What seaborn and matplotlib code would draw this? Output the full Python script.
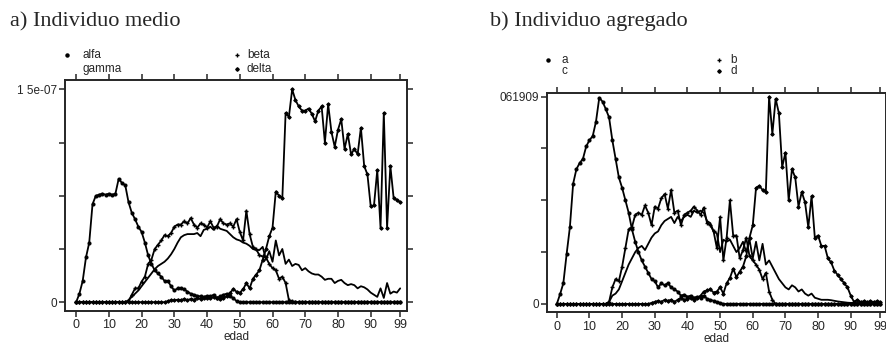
import numpy as np
import pandas as pd
import seaborn as sns
import matplotlib.pyplot as plt

# edades 0..99
edad = list(range(100))

# Panel a) Individuo medio  (fraccion del maximo 1.5e-07)
TOP_A = 1.5e-07
alfa_a = [0, .04, .10, .21, .28, .46, .50, .505, .51, .505,
          .51, .505, .51, .58, .56, .55, .47, .42, .39, .355,
          .33, .28, .22, .18, .15, .135, .12, .10, .10, .075,
          .055, .065, .065, .06, .05, .04, .035, .03, .027, .025,
          .03, .027, .035, .02, .027, .035, .04, .027, .02, .005] + [0.0] * 50
beta_a = [0.0] * 16 + [.005, .035, .065, .065, .097, .12, .18, .20, .25, .27,
                       .29, .315, .31, .325, .355, .365, .365, .38, .37, .395,
                       .365, .35, .37, .365, .35, .38, .35, .355, .39, .37,
                       .365, .37, .355, .39, .33, .29, .43, .32, .26, .25,
                       .22, .215, .21, .18, .16, .15, .11, .12, .09, .01,
                       .005] + [0.0] * 33
gamma_a = [0.0] * 16 + [.01, .025, .04, .055, .075, .095, .115, .135, .155, .17,
                        .18, .19, .205, .225, .25, .28, .305, .315, .32, .32,
                        .32, .325, .31, .34, .345, .355, .34, .36, .345, .34,
                        .335, .32, .305, .295, .29, .28, .275, .265, .25, .245,
                        .245, .26, .20, .24, .19, .29, .22, .25, .18, .20,
                        .17, .18, .175, .15, .16, .145, .135, .13, .13, .12,
                        .105, .11, .11, .09, .10, .105, .09, .08, .085, .08,
                        .065, .075, .07, .06, .045, .035, .025, .065, .02, .09,
                        .04, .05, .045, .065]
delta_a = [0.0] * 28 + [.005, .01, .008, .012, .01, .015, .01, .015, .012, .02,
                        .015, .02, .022, .018, .025, .02, .015, .02, .027, .045,
                        .06, .05, .045, .06, .09, .065, .11, .13, .15, .20,
                        .25, .31, .35, .52, .50, .49, .89, .87, 1.0, .95,
                        .92, .90, .90, .91, .885, .85, .90, .92, .75, .93,
                        .80, .73, .81, .86, .72, .79, .695, .72, .695, .82,
                        .64, .60, .45, .455, .62, .35, .89, .35, .64, .49,
                        .48, .47]

# Panel b) Individuo agregado  (fraccion del maximo .061909)
TOP_B = 0.061909
a_b = [0, .047, .10, .24, .37, .58, .65, .68, .70, .76,
       .79, .81, .88, .995, .976, .94, .90, .79, .70, .61,
       .56, .50, .44, .36, .30, .25, .21, .18, .15, .12,
       .11, .08, .10, .09, .10, .08, .07, .06, .04, .045,
       .035, .04, .03, .035, .03, .04, .025, .02, .015, .01,
       .005] + [0.0] * 49
b_b = [0.0] * 16 + [.01, .08, .12, .11, .18, .27, .36, .37, .43, .44,
                    .43, .475, .44, .38, .47, .46, .51, .53, .46, .55,
                    .44, .45, .38, .43, .44, .45, .47, .45, .43, .465,
                    .39, .38, .35, .27, .42, .21, .32, .50, .33, .33,
                    .22, .26, .32, .23, .21, .19, .165, .12, .15, .06,
                    .02] + [0.0] * 33
c_b = [0.0] * 16 + [.01, .04, .05, .07, .11, .15, .19, .22, .25, .27,
                    .28, .26, .29, .32, .34, .35, .38, .40, .41, .42,
                    .39, .42, .40, .42, .43, .42, .45, .44, .45, .44,
                    .40, .39, .35, .34, .25, .31, .30, .31, .28, .25,
                    .27, .30, .25, .31, .22, .30, .21, .29, .19, .21,
                    .18, .15, .12, .10, .08, .07, .09, .08, .06, .07,
                    .05, .04, .05, .03, .025, .02, .02, .02, .018, .015,
                    .012, .01, .008, .006, .005, .005, .004, .006, .005, .004,
                    .005, .006, .005, .006]
d_b = [0.0] * 29 + [.005, .01, .015, .01, .02, .015, .02, .01, .02, .03,
                    .02, .025, .03, .02, .03, .04, .06, .065, .07, .055,
                    .06, .08, .05, .10, .125, .17, .13, .156, .18, .23,
                    .32, .38, .56, .57, .55, .54, 1.0, .82, .99, .92,
                    .66, .73, .50, .65, .61, .47, .54, .49, .37, .52,
                    .32, .33, .28, .28, .22, .20, .16, .14, .12, .10,
                    .08, .04, .01, .02, .01, .012, .01, .012, .01, .012,
                    .01]

xticks = [0, 10, 20, 30, 40, 50, 60, 70, 80, 90, 99]

sns.set_style('ticks')
plt.rcParams['font.family'] = ['Liberation Sans', 'DejaVu Sans']

fig = plt.figure(figsize=(8.87, 3.46), dpi=100)
ax_a = fig.add_axes([0.0733, 0.102, 0.3856, 0.6668])
ax_b = fig.add_axes([0.6167, 0.097, 0.3822, 0.6333])

estilos = [dict(marker='o', markersize=2.2),
           dict(marker='+', markersize=3.2, markeredgewidth=1),
           dict(marker=None),
           dict(marker='D', markersize=1.8)]


def panel(ax, series, nombres, top, toplab, xlim, ylim, leg_x, leg_y):
    for vals, st in zip(series, estilos):
        df = pd.DataFrame({'edad': edad, 'v': np.array(vals) * top})
        sns.lineplot(data=df, x='edad', y='v', ax=ax, color='black', lw=1.3,
                     markeredgecolor='black', legend=False, **st)
    ax.set_xlim(*xlim)
    ax.set_ylim(ylim[0] * top, ylim[1] * top)
    ax.set_xticks(xticks)
    ax.set_xticklabels([str(t) for t in xticks], fontsize=9)
    ax.set_yticks([0, top / 4, top / 2, 3 * top / 4, top])
    ax.set_yticklabels(['0', '', '', '', toplab], fontsize=8.5)
    ax.tick_params(axis='both', direction='out', length=4, width=1.1, pad=2,
                   top=True, right=True, labeltop=False, labelright=False)
    for s in ax.spines.values():
        s.set_linewidth(1.4)
    ax.set_xlabel('edad', fontsize=8.5, labelpad=0)
    ax.set_ylabel('')
    # leyenda estilo Stata: alfa beta / gamma delta
    orden = [(0, 0, 0), (1, 1, 0), (2, 0, 1), (3, 1, 1)]
    for i, col, row in orden:
        st = estilos[i]
        if st['marker'] is not None:
            ax.plot([leg_x[col][0]], [leg_y[row]], transform=ax.transAxes,
                    clip_on=False, color='black', linestyle='none',
                    marker=st['marker'], markersize=st['markersize'],
                    markeredgewidth=st.get('markeredgewidth', 1))
        ax.text(leg_x[col][1], leg_y[row], nombres[i], transform=ax.transAxes,
                fontsize=8.5, va='center', ha='left')


panel(ax_a, [alfa_a, beta_a, gamma_a, delta_a], ['alfa', 'beta', 'gamma', 'delta'],
      TOP_A, '1 5e-07', (-3.4, 101.1), (-0.04, 1.044),
      [(0.006, 0.05), (0.503, 0.532)], [1.108, 1.048])
panel(ax_b, [a_b, b_b, c_b, d_b], ['a', 'b', 'c', 'd'],
      TOP_B, '061909', (-3.0, 100.8), (-0.041, 1.016),
      [(0.004, 0.043), (0.508, 0.54)], [1.153, 1.100])

fig.text(0.011, 0.938, 'a) Individuo medio', family='Liberation Serif',
         fontsize=16, va='center', ha='left')
fig.text(0.552, 0.938, 'b) Individuo agregado', family='Liberation Serif',
         fontsize=16, va='center', ha='left')

fig.savefig('out.png', dpi=100)
